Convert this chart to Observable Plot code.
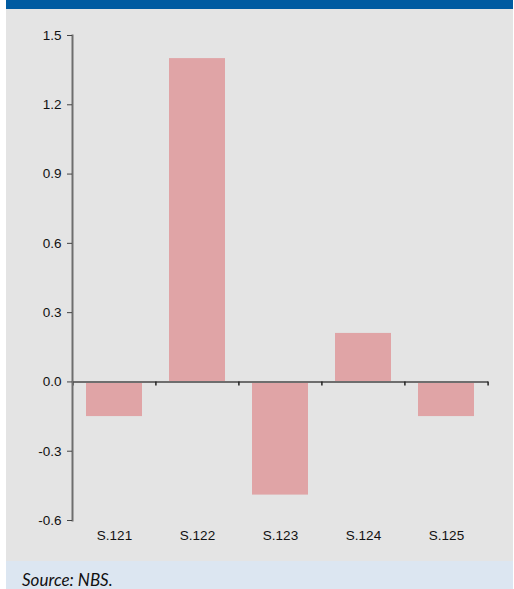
<!DOCTYPE html>
<html>
<head>
<meta charset="utf-8">
<script src="https://cdn.jsdelivr.net/npm/d3@7"></script>
<script src="https://cdn.jsdelivr.net/npm/@observablehq/plot@0.6"></script>
<style>
  html, body { margin: 0; padding: 0; background: #ffffff; }
  #wrap { position: absolute; left: 6px; top: 0; width: 507px; }
  .topband { height: 9px; background: #005ba1; }
  #chart svg { display: block; }
  #chart svg text { font-family: "Liberation Sans", Arial, sans-serif; font-size: 13.5px; fill: #111; }
  .source {
    height: 28px; background: #dce6f1; overflow: hidden;
    font-family: Lato, "Open Sans", sans-serif; font-style: italic;
    font-size: 17px; line-height: 17px; padding: 10px 0 0 16px; color: #111;
    box-sizing: border-box;
  }
</style>
</head>
<body>
<div id="wrap">
  <div class="topband"></div>
  <div id="chart"></div>
  <div class="source">Source: NBS.</div>
</div>
<script>
// Change by period
const categories = ["S.121", "S.122", "S.123", "S.124", "S.125"];
const values = [-0.15, 1.40, -0.49, 0.21, -0.15];
const yTicks = [1.5, 1.2, 0.9, 0.6, 0.3, 0.0, -0.3, -0.6];

const data = categories.map((c, i) => ({cat: c, val: values[i]}));

const W = 507, H = 552;
const mT = 26, mB = 41, mL = 66, mR = 25;
const yMin = -0.6, yMax = 1.5;
const step = (W - mL - mR) / categories.length;
const pxPerUnit = (H - mT - mB) / (yMax - yMin);
const tickLen = 4 / pxPerUnit;
const font = "'Liberation Sans', Arial, sans-serif";

const chart = Plot.plot({
  width: W,
  height: H,
  marginTop: mT,
  marginBottom: mB,
  marginLeft: mL,
  marginRight: mR,
  style: {background: "#e4e4e4", color: "#111", fontFamily: font, fontSize: "13.5px"},
  x: {domain: categories, paddingInner: 0.33, paddingOuter: 0.165, label: null},
  y: {domain: [yMin, yMax], label: null},
  marks: [
    Plot.barY(data, {x: "cat", y: "val", fill: "#e0a4a6"}),
    Plot.ruleY([0], {stroke: "#6e6e6e", strokeWidth: 2}),
    // category boundary ticks below the zero line
    Plot.ruleX(categories, {x: d => d, y1: 0, y2: -tickLen, dx: -step / 2, stroke: "#222", strokeWidth: 1.5}),
    Plot.ruleX([categories[categories.length - 1]], {x: d => d, y1: 0, y2: -tickLen, dx: step / 2, stroke: "#222", strokeWidth: 1.5}),
    Plot.frame({anchor: "left", stroke: "#6e6e6e", strokeWidth: 2}),
    Plot.axisY({ticks: yTicks, tickSize: 5, tickPadding: 6, tickFormat: d => d.toFixed(1), stroke: "#444",
      fontFamily: font, fontSize: 13.5, fill: "#111", label: null}),
    Plot.axisX({tickSize: 0, tickPadding: 10, fontFamily: font, fontSize: 13.5, fill: "#111", label: null})
  ]
});
document.getElementById("chart").appendChild(chart);
</script>
</body>
</html>
